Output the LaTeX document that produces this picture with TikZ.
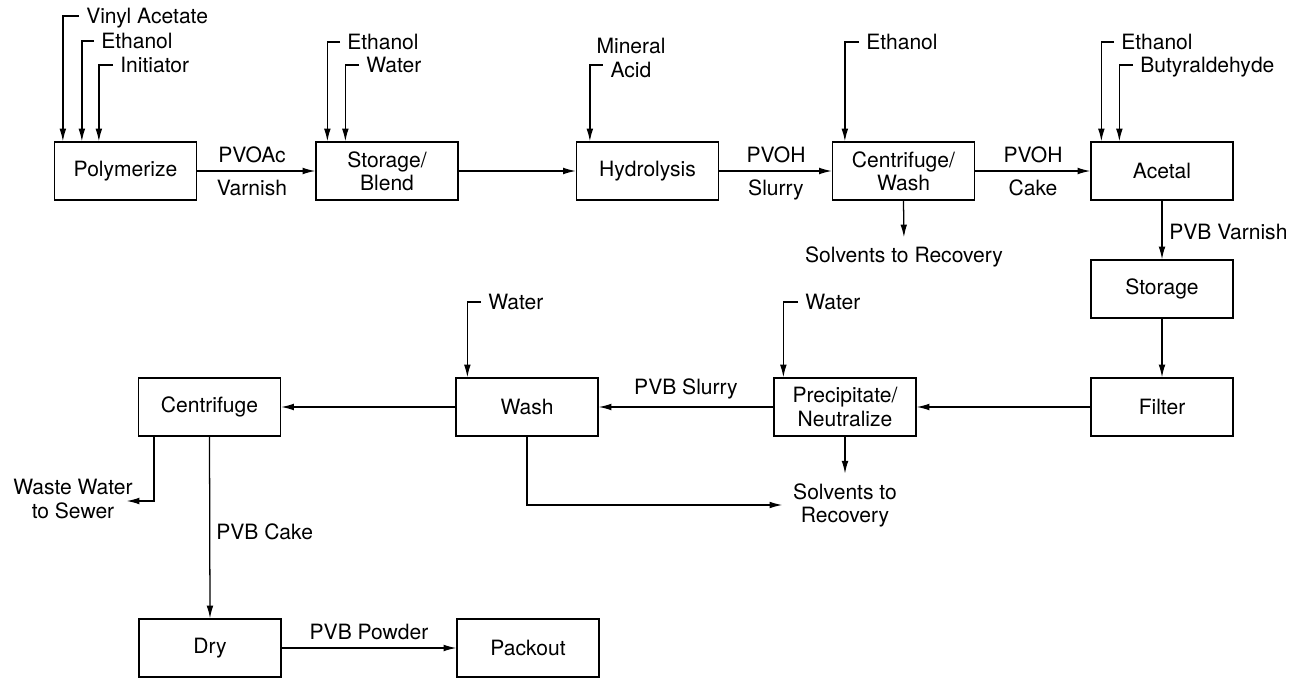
\documentclass[tikz,border=0pt]{standalone}
\usepackage{fontspec}
\setmainfont{TeX Gyre Heros}
\usetikzlibrary{arrows.meta,calc}
\begin{document}
\begin{tikzpicture}[x=0.75pt,y=-0.75pt,
  font=\fontsize{15.8}{17.3}\selectfont,
  box/.style={draw,line width=0.95pt,minimum width=106.5pt,minimum height=43.5pt,inner sep=0pt,align=center},
  arr/.style={line width=0.95pt,-{Latex[length=9.5pt,width=5pt]}},
  feed/.style={anchor=west,inner sep=0pt,text depth=0pt},
  lbl/.style={inner sep=0pt,text depth=0pt},
  ml/.style={inner sep=2pt,align=center}]
\path[use as bounding box] (0,0) rectangle (1296,678);

% process boxes
\node[box] (poly) at (125.5,171) {Polymerize};
\node[box] (sb)   at (387,171)   {Storage/\\Blend};
\node[box] (hyd)  at (647.5,171) {Hydrolysis};
\node[box] (cw)   at (903.5,171) {Centrifuge/\\Wash};
\node[box] (ac)   at (1162,171)  {Acetal};
\node[box] (st)   at (1162,289)  {Storage};
\node[box] (fi)   at (1162,407)  {Filter};
\node[box] (pn)   at (845,407)   {Precipitate/\\Neutralize};
\node[box] (wa)   at (527,407)   {Wash};
\node[box] (cf)   at (209.5,407) {Centrifuge};
\node[box] (dry)  at (210,648)   {Dry};
\node[box] (pk)   at (528,648)   {Packout};

% feed labels
\node[feed] (va)  at (86,16)   {Vinyl Acetate};
\node[feed] (et1) at (101,41)  {Ethanol};
\node[feed] (ini) at (120,65)  {Initiator};
\node[feed] (et2) at (347,42)  {Ethanol};
\node[feed] (wt1) at (366,65)  {Water};
\node[ml]   (ma)  at (631,58)  {Mineral\\Acid};
\node[feed] (et3) at (866,42)  {Ethanol};
\node[feed] (et4) at (1121,42) {Ethanol};
\node[feed] (by)  at (1140,65) {Butyraldehyde};
\node[feed] (wt2) at (488,302) {Water};
\node[feed] (wt3) at (805,302) {Water};

% feed connectors
\draw[arr] ($(va.west)+(-7,0)$)  -| ($(poly.north west)+(9,0)$);
\draw[arr] ($(et1.west)+(-7,0)$) -| ($(poly.north west)+(28,0)$);
\draw[arr] ($(ini.west)+(-7,0)$) -| ($(poly.north west)+(45,0)$);
\draw[arr] ($(et2.west)+(-7,0)$) -| ($(sb.north west)+(12,0)$);
\draw[arr] ($(wt1.west)+(-7,0)$) -| ($(sb.north west)+(30,0)$);
\draw[arr] ($(ma.west)+(9,7)$)   -| ($(hyd.north west)+(14,0)$);
\draw[arr] ($(et3.west)+(-7,0)$) -| ($(cw.north west)+(13,0)$);
\draw[arr] ($(et4.west)+(-7,0)$) -| ($(ac.north west)+(11,0)$);
\draw[arr] ($(by.west)+(-7,0)$)  -| ($(ac.north west)+(29,0)$);
\draw[arr] ($(wt2.west)+(-7,0)$) -| ($(wa.north west)+(12,0)$);
\draw[arr] ($(wt3.west)+(-7,0)$) -| ($(pn.north west)+(10,0)$);

% outlet labels
\node[ml] (sr1) at (904,257) {Solvents to Recovery};
\node[ml] (sr2) at (845,505) {Solvents to\\Recovery};
\node[ml] (ww)  at (73,499)  {Waste Water\\to Sewer};

% main flow
\draw[arr] (poly.east) -- (sb.west);
\node[lbl] (l1a) at (252,155) {PVOAc};
\node[lbl] (l1b) at (252,188) {Varnish};
\draw[arr] (sb.east) -- (hyd.west);
\draw[arr] (hyd.east) -- (cw.west);
\node[lbl] (l2a) at (776,155) {PVOH};
\node[lbl] (l2b) at (776,188) {Slurry};
\draw[arr] (cw.east) -- (ac.west);
\node[lbl] (l3a) at (1033,155) {PVOH};
\node[lbl] (l3b) at (1033,188) {Cake};
\draw[arr,shorten >=5pt] (cw.south) -- (sr1.north);
\draw[arr] (ac.south) -- (st.north);
\node[lbl,anchor=west] (l4) at (1169,232) {PVB Varnish};
\draw[arr] (st.south) -- (fi.north);
\draw[arr] (fi.west) -- (pn.east);
\draw[arr] (pn.west) -- (wa.east);
\node[lbl] (l5) at (686,387) {PVB Slurry};
\draw[arr] (wa.west) -- (cf.east);
\draw[arr] (pn.south) -- ++(0,37);
\draw[arr,shorten >=6pt] (wa.south) |- (sr2.west);
\draw[arr] ($(cf.south west)+(16,0)$) |- ($(ww.east)+(-9,2)$);
\draw[arr] (cf.south) -- (dry.north);
\node[lbl,anchor=west] (l6) at (216,532) {PVB Cake};
\draw[arr] (dry.east) -- (pk.west);
\node[lbl] (l7) at (369,632) {PVB Powder};
\end{tikzpicture}
\end{document}
